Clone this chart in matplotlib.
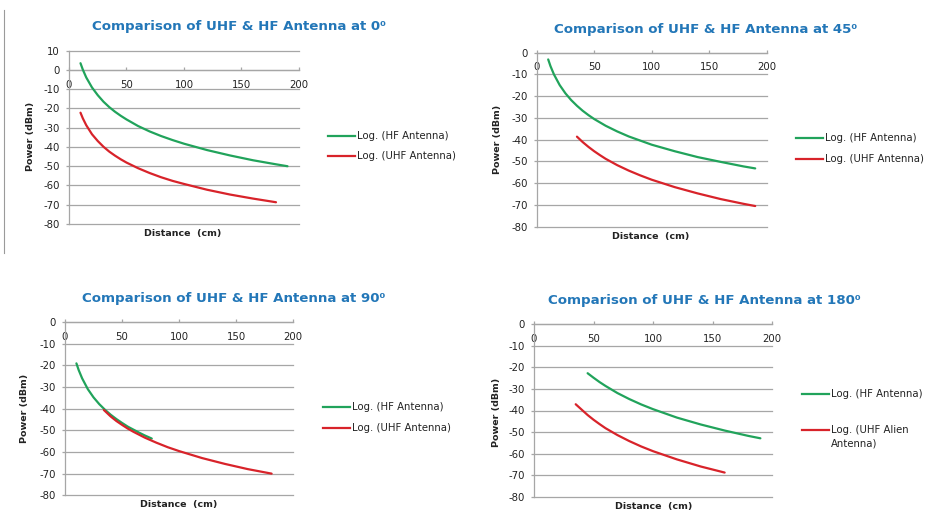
import matplotlib
matplotlib.use("Agg")
import matplotlib.pyplot as plt
from matplotlib.lines import Line2D

# HF / UHF received power (distance in cm, power in dBm)
hf_0_x = [10, 12, 15, 20, 25, 30, 35, 40, 45, 50, 60, 70, 80, 90, 100, 120, 140, 160, 180, 190]
hf_0_y = [3.5, 0.2, -3.9, -9.1, -13.1, -16.5, -19.3, -21.7, -23.8, -25.7, -29.1, -31.9, -34.3, -36.4,
          -38.3, -41.6, -44.4, -46.9, -49.0, -50.0]
uhf_0_x = [10, 12, 15, 20, 25, 30, 35, 40, 45, 50, 60, 70, 80, 90, 100, 120, 140, 160, 180]
uhf_0_y = [-22.2, -25.1, -28.7, -33.4, -36.9, -39.9, -42.4, -44.5, -46.4, -48.1, -51.0, -53.5, -55.7,
           -57.6, -59.2, -62.2, -64.7, -66.8, -68.7]

hf_45_x = [10, 12, 15, 20, 25, 30, 35, 40, 45, 50, 60, 70, 80, 90, 100, 120, 140, 160, 180, 190]
hf_45_y = [-3.1, -6.2, -10.0, -14.9, -18.7, -21.8, -24.4, -26.7, -28.7, -30.5, -33.6, -36.2, -38.5,
           -40.4, -42.3, -45.3, -48.0, -50.2, -52.3, -53.2]
uhf_45_x = [35, 40, 45, 50, 55, 60, 70, 80, 90, 100, 120, 140, 160, 180, 190]
uhf_45_y = [-38.6, -41.1, -43.3, -45.3, -47.1, -48.8, -51.7, -54.2, -56.4, -58.4, -61.8, -64.7, -67.3,
            -69.5, -70.5]

hf_90_x = [10, 12, 15, 20, 25, 30, 35, 40, 45, 50, 55, 60, 65, 70, 76]
hf_90_y = [-19.1, -22.2, -26.0, -31.0, -34.8, -37.9, -40.5, -42.8, -44.8, -46.6, -48.3, -49.7, -51.1,
           -52.4, -53.8]
uhf_90_x = [34, 40, 45, 50, 55, 60, 70, 80, 90, 100, 120, 140, 160, 181]
uhf_90_y = [-40.6, -43.6, -45.7, -47.5, -49.2, -50.7, -53.4, -55.7, -57.8, -59.6, -62.8, -65.5, -67.9, -70.0]

hf_180_x = [45, 50, 55, 60, 70, 80, 90, 100, 120, 140, 160, 180, 190]
hf_180_y = [-22.7, -24.8, -26.8, -28.6, -31.9, -34.7, -37.2, -39.4, -43.3, -46.5, -49.3, -51.8, -52.9]
uhf_180_x = [35, 40, 45, 50, 55, 60, 70, 80, 90, 100, 120, 140, 160]
uhf_180_y = [-37.1, -39.6, -42.1, -44.3, -46.3, -48.2, -51.4, -54.2, -56.7, -58.9, -62.7, -66.0, -68.8]

angles = ["0", "45", "90", "180"]
y_tops = [10, 0, 0, 0]
uhf_labels = ["Log. (UHF Antenna)", "Log. (UHF Antenna)", "Log. (UHF Antenna)", "Log. (UHF Alien\nAntenna)"]

GREEN = "#21a35b"
RED = "#d8232a"
BLUE = "#2377b8"
GRID = "#a6a6a6"
TXT = "#222222"

plt.rcParams["axes.unicode_minus"] = False

W, H = 928, 512
fig = plt.figure(figsize=(9.28, 5.12), dpi=100)
fig.patch.set_facecolor("white")


def px(x, y):
    # pixel position (from top-left) -> figure fraction
    return x / W, 1 - y / H


# axes boxes in pixels: left, top, right, bottom
boxes = [(69, 50.7, 299, 224), (536.7, 52.7, 766.7, 226.7),
         (65, 322, 293.3, 495.3), (534, 324.3, 772.3, 496.7)]
titles_at = [(239.5, 26.7), (706, 29.3), (233.3, 298.7), (704, 300.3)]
ylab_at = [(30.7, 136.7), (497.3, 139.3), (25, 408.7), (496.3, 412.7)]
xlab_at = [(182.7, 233.3), (650.7, 236), (178.3, 504.3), (653.3, 506)]
legend_at = [(328, 136, 156), (796.3, 137.7, 158.7), (323.3, 406.7, 428), (802.3, 394.3, 429.7)]

series = [(hf_0_x, hf_0_y, uhf_0_x, uhf_0_y),
          (hf_45_x, hf_45_y, uhf_45_x, uhf_45_y),
          (hf_90_x, hf_90_y, uhf_90_x, uhf_90_y),
          (hf_180_x, hf_180_y, uhf_180_x, uhf_180_y)]

for i in range(4):
    l, t, r, b = boxes[i]
    ax = fig.add_axes([l / W, 1 - b / H, (r - l) / W, (b - t) / H])
    hx, hy, ux, uy = series[i]
    ax.plot(hx, hy, color=GREEN, lw=1.6, zorder=3, solid_joinstyle="round", solid_capstyle="round")
    ax.plot(ux, uy, color=RED, lw=1.6, zorder=4, solid_joinstyle="round", solid_capstyle="round")

    ax.set_xlim(0, 200)
    ax.set_ylim(-80, y_tops[i])
    ax.set_yticks(range(-80, y_tops[i] + 1, 10))
    ax.set_xticks([0, 50, 100, 150, 200])
    ax.yaxis.grid(True, color=GRID, lw=0.9)
    for gl in ax.get_ygridlines():
        gl.set_clip_on(False)
    ax.set_axisbelow(True)

    for s in ["top", "right"]:
        ax.spines[s].set_visible(False)
    ax.spines["bottom"].set_position(("data", 0))
    for s in ["bottom", "left"]:
        ax.spines[s].set_color(GRID)
        ax.spines[s].set_linewidth(0.9)

    ax.tick_params(axis="y", length=2.5, width=0.9, color=GRID, pad=4, labelsize=7.3, labelcolor=TXT)
    ax.tick_params(axis="x", direction="in", length=2.5, width=0.9, color=GRID, pad=7, labelsize=7.3,
                   labelcolor=TXT)

    tx, ty = px(*titles_at[i])
    fig.text(tx, ty, "Comparison of UHF & HF Antenna at " + angles[i] + "\u2070",
             color=BLUE, fontsize=9.6, fontweight="bold", ha="center", va="center")
    yx, yy = px(*ylab_at[i])
    fig.text(yx, yy, "Power (dBm)", rotation=90, fontsize=6.8, fontweight="bold",
             ha="center", va="center", color=TXT)
    xx, xy = px(*xlab_at[i])
    fig.text(xx, xy, "Distance  (cm)", fontsize=6.8, fontweight="bold",
             ha="center", va="center", color=TXT)

    # legend entries, laid out like the spreadsheet legend
    lx, ly1, ly2 = legend_at[i]
    for ly, col, lab in [(ly1, GREEN, "Log. (HF Antenna)"), (ly2, RED, uhf_labels[i])]:
        x0, y0 = px(lx, ly)
        x1, _ = px(lx + 27, ly)
        fig.add_artist(Line2D([x0, x1], [y0, y0], color=col, lw=1.6))
        for k, txt in enumerate(lab.split("\n")):
            tx2, ty2 = px(lx + 29, ly + k * 14)
            fig.text(tx2, ty2, txt, fontsize=7.3, ha="left", va="center", color=TXT)

# faint cell border on the left of the top-left chart
fig.add_artist(Line2D([4 / W, 4 / W], [1 - 10 / H, 1 - 253 / H], color="#9a9a9a", lw=0.8))

fig.savefig("out.png", dpi=100)
